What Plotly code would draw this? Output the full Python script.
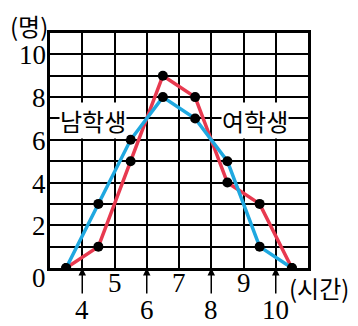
import plotly.graph_objects as go

# 계급값(시간) and 도수(명)
hours = [3.5, 4.5, 5.5, 6.5, 7.5, 8.5, 9.5, 10.5]
boys = [0, 3, 6, 8, 7, 5, 1, 0]      # 남학생 (blue)
girls = [0, 1, 5, 9, 8, 4, 3, 0]     # 여학생 (red)

upper_ticks = [5, 7, 9]
lower_ticks = [4, 6, 8, 10]
y_ticks = [2, 4, 6, 8, 10]

RED = "#e8394f"
BLUE = "#1fa8e0"
NUM_FONT = dict(family="'Liberation Serif', 'Times New Roman', Times, serif", size=27, color="black")
KR_FONT = dict(family="'Noto Sans CJK KR', sans-serif", size=24, color="black")

fig = go.Figure()
fig.add_trace(go.Scatter(x=hours, y=girls, mode="lines+markers",
                         line=dict(color=RED, width=3.5),
                         marker=dict(color="black", size=10)))
fig.add_trace(go.Scatter(x=hours, y=boys, mode="lines+markers",
                         line=dict(color=BLUE, width=3.5),
                         marker=dict(color="black", size=10)))

fig.update_xaxes(range=[3, 11], dtick=1, tick0=3, showgrid=True, gridcolor="black",
                 gridwidth=2, showticklabels=False, zeroline=False,
                 showline=True, linecolor="black", linewidth=3, mirror=True)
fig.update_yaxes(range=[0, 11], dtick=1, tick0=0, showgrid=True, gridcolor="black",
                 gridwidth=2, showticklabels=False, zeroline=False,
                 showline=True, linecolor="black", linewidth=3, mirror=True)

ann = []
for v in y_ticks:
    ann.append(dict(x=3, y=v, xref="x", yref="y", text=str(v), showarrow=False,
                    xanchor="right", xshift=-2, yshift=-1, font=NUM_FONT))
ann.append(dict(x=3, y=0, text="0", showarrow=False, xanchor="right",
                xshift=-2, yshift=-10, font=NUM_FONT))
for v in upper_ticks:
    ann.append(dict(x=v, y=0, text=str(v), showarrow=False, yshift=-15,
                    font=NUM_FONT))
for v in lower_ticks:
    ann.append(dict(x=v, y=0, text=str(v), showarrow=True, ax=0, ay=42,
                    arrowhead=2, arrowsize=1, arrowwidth=1.5, arrowcolor="black",
                    font=NUM_FONT))
ann.append(dict(x=11, y=0, text="(시간)", showarrow=False, xanchor="left",
                xshift=-21, yshift=-19, font=KR_FONT))
ann.append(dict(x=3, y=11, text="(명)", showarrow=False, xanchor="right",
                xshift=0, yshift=8, font=KR_FONT))
ann.append(dict(x=4.33, y=6.9, text="남학생", showarrow=False, bgcolor="white",
                borderpad=0, font=KR_FONT))
ann.append(dict(x=9.35, y=6.9, text="여학생", showarrow=False, bgcolor="white",
                borderpad=0, font=KR_FONT))

# page body adds an 8px margin, so the figure is 8px smaller on the left/top
fig.update_layout(width=350, height=318, margin=dict(l=42, r=50, t=25, b=58),
                  plot_bgcolor="white", paper_bgcolor="white", showlegend=False,
                  annotations=ann)

fig.write_html("out.html")
